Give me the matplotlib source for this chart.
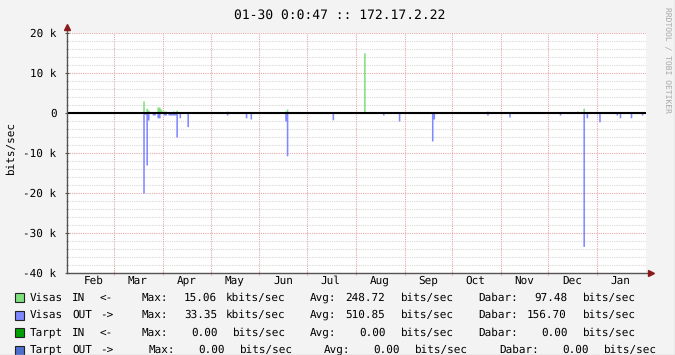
import datetime as dt
import re

import matplotlib
matplotlib.use("Agg")
import matplotlib.pyplot as plt
import matplotlib.dates as mdates
from matplotlib.patches import Rectangle
import numpy as np

plt.rcParams["text.hinting"] = "no_hinting"
plt.rcParams["text.hinting_factor"] = 1

# ======================
# data (day index from start, value in kbits/sec)
# ======================
start = dt.datetime(2013, 1, 30, 0, 47)
n_days = 367

in_days = [48, 49, 50, 51, 52, 53, 54, 55, 56, 57, 58, 59, 60, 61, 62, 63, 64, 65, 66,
           67, 68, 69, 75, 76, 101, 118, 138, 139, 168, 171, 178, 180, 188, 200, 201,
           210, 231, 232, 266, 312, 323, 327, 336, 356]
in_vals = [3.0, 0.3, 1.2, 0.75, 0.25, 0.25, 0.25, 0.25, 0.25, 1.5, 1.5, 1.0, 0.5, 0.5, 0.5,
           0.3, 0.3, 0.3, 0.3, 0.5, 0.3, 0.7, 0.3, 0.3, 0.5, 0.3, 0.5, 1.0, 0.3, 0.3,
           0.3, 0.3, 15.06, 0.3, 0.3, 0.3, 0.3, 0.3, 0.5, 0.3, 0.5, 1.2, 0.3, 0.3]

out_days = [48, 49, 50, 51, 54, 55, 57, 58, 61, 62, 64, 65, 66, 67, 68, 69, 71, 76, 101,
            113, 116, 138, 139, 168, 200, 210, 231, 232, 266, 280, 312, 327, 329, 337,
            348, 350, 357, 364]
out_vals = [20.0, 0.3, 13.0, 1.75, 0.5, 0.5, 1.2, 1.2, 0.5, 0.5, 0.5, 0.5, 0.5, 0.5, 0.5,
            6.0, 1.2, 3.4, 0.5, 1.2, 1.5, 2.0, 10.7, 1.7, 0.5, 2.0, 7.0, 1.5, 0.5, 1.0,
            0.5, 33.35, 1.2, 2.2, 0.5, 1.2, 1.2, 0.5]

title = "01-30 0:0:47 :: 172.17.2.22"
legend_rows = [
    "Visas IN  <-    Max:  15.06 kbits/sec   Avg: 248.72  bits/sec   Dabar:  97.48  bits/sec",
    "Visas OUT ->    Max:  33.35 kbits/sec   Avg: 510.85  bits/sec   Dabar: 156.70  bits/sec",
    "Tarpt IN  <-    Max:   0.00  bits/sec   Avg:   0.00  bits/sec   Dabar:   0.00  bits/sec",
    "Tarpt OUT ->     Max:   0.00  bits/sec    Avg:   0.00  bits/sec    Dabar:   0.00  bits/sec",
]
legend_colors = ["#80E080", "#8088FF", "#00A000", "#4F6FCF"]

# ======================
# series
# ======================
in_series = np.zeros(n_days)
in_series[in_days] = np.array(in_vals) * 1000
out_series = np.zeros(n_days)
out_series[out_days] = np.array(out_vals) * 1000

edges = [start + dt.timedelta(days=i) for i in range(n_days + 1)]
xe = mdates.date2num(edges)

# ======================
# figure
# ======================
W, H = 675, 355
mono = "DejaVu Sans Mono"
fig = plt.figure(figsize=(W / 100, H / 100), dpi=100, facecolor="#F3F3F3")
ax = fig.add_axes([67 / W, (H - 273) / H, 579 / W, 240 / H])
ax.set_facecolor("white")

ax.set_xlim(xe[0], xe[-1])
ax.set_ylim(-40000, 20000)

# grid
dot = (0, (1, 1))
for v in range(-40000, 20001, 2000):
    if v % 10000:
        ax.axhline(v, color="#D8D8D8", lw=0.8, ls=dot, zorder=1)
for v in range(-40000, 20001, 10000):
    ax.axhline(v, color="#E3A8A8", lw=0.8, ls=dot, zorder=1)
month_starts = [dt.datetime(2013, m, 1) for m in range(3, 13)] + [dt.datetime(2014, 1, 1)]
for m in month_starts:
    ax.axvline(mdates.date2num(m), color="#E3A8A8", lw=0.8, ls=dot, zorder=1)

# data
ax.fill_between(xe, np.append(in_series, 0), 0, step="post", color=legend_colors[0],
                lw=0, antialiased=False, zorder=3)
ax.fill_between(xe, -np.append(out_series, 0), 0, step="post", color=legend_colors[1],
                lw=0, antialiased=False, zorder=3)
ax.axhline(0, color="black", lw=1.5, zorder=4)

# axes
for s in ax.spines.values():
    s.set_visible(False)
ax.plot([0, 1.006], [0, 0], transform=ax.transAxes, color="#555555", lw=1,
        clip_on=False, zorder=5)
ax.plot([0, 0], [0, 1.02], transform=ax.transAxes, color="#555555", lw=1,
        clip_on=False, zorder=5)
ax.plot([1.008], [0], marker=">", ms=4.5, color="#8B1A1A", transform=ax.transAxes,
        clip_on=False, zorder=6)
ax.plot([0], [1.024], marker="^", ms=4.5, color="#8B1A1A", transform=ax.transAxes,
        clip_on=False, zorder=6)

yt = list(range(-40000, 20001, 10000))
ax.set_yticks(yt)
ax.set_yticklabels(["%d k" % (v // 1000) if v else "0" for v in yt], family=mono, fontsize=7.8)
ax.set_yticks(range(-40000, 20001, 2000), minor=True)
ax.tick_params(axis="y", which="major", length=3, direction="inout", color="#555555", pad=6)
ax.tick_params(axis="y", which="minor", length=2, direction="inout", color="#999999")

ax.set_xticks([mdates.date2num(m) for m in month_starts])
ax.set_xticklabels([])
mids = [dt.datetime(2013, m, 16) for m in range(2, 13)] + [dt.datetime(2014, 1, 16)]
ax.set_xticks([mdates.date2num(m) for m in mids], minor=True)
ax.set_xticklabels([m.strftime("%b") for m in mids], minor=True, family=mono, fontsize=7.8)
ax.tick_params(axis="x", which="major", length=3, direction="inout", color="#E3A8A8")
ax.tick_params(axis="x", which="minor", length=0, pad=2)

# texts
fig.text(340 / W, 1 - 15 / H, title, ha="center", va="center", family=mono, fontsize=9.5)
fig.text(11 / W, 1 - 148 / H, "bits/sec", rotation=90, ha="center", va="center",
         family=mono, fontsize=7.8)
fig.text(667 / W, 1 - 60 / H, "RRDTOOL / TOBI OETIKER", rotation=270, ha="center",
         va="center", family=mono, fontsize=6, color="#A8A8A8")

# legend: words laid out on a fixed 7 px character grid
char_w = 7.0
for i, (row, c) in enumerate(zip(legend_rows, legend_colors)):
    y = 297.5 + i * 17.5
    fig.patches.append(Rectangle((15 / W, (H - y - 4.5) / H), 9 / W, 9 / H,
                                 transform=fig.transFigure, facecolor=c,
                                 edgecolor="#222222", lw=0.8))
    for m in re.finditer(r"\S+", row):
        fig.text((30 + m.start() * char_w) / W, 1 - y / H, m.group(), ha="left",
                 va="center", family=mono, fontsize=8.1)

# frame
fig.add_artist(plt.Line2D([0, 1], [0.5 / H, 0.5 / H], transform=fig.transFigure,
                          color="#C8C8C8", lw=1))
fig.add_artist(plt.Line2D([1 - 0.5 / W, 1 - 0.5 / W], [0, 1], transform=fig.transFigure,
                          color="#C8C8C8", lw=1))

fig.savefig("out.png", dpi=100, facecolor=fig.get_facecolor())
